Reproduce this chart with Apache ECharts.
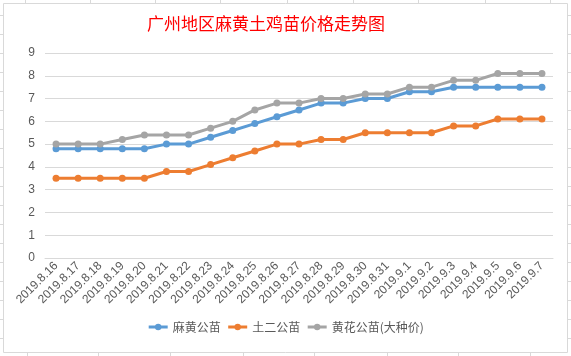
<!DOCTYPE html>
<html><head><meta charset="utf-8">
<script src="https://cdn.jsdelivr.net/npm/echarts@6/dist/echarts.min.js"></script>
<style>html,body{margin:0;padding:0;background:#fff}#c{width:571px;height:356px}</style>
</head><body><div id="c"></div>
<script>
const titleText = '广州地区麻黄土鸡苗价格走势图';
const categories = ['2019.8.16','2019.8.17','2019.8.18','2019.8.19','2019.8.20','2019.8.21','2019.8.22','2019.8.23','2019.8.24','2019.8.25','2019.8.26','2019.8.27','2019.8.28','2019.8.29','2019.8.30','2019.8.31','2019.9.1','2019.9.2','2019.9.3','2019.9.4','2019.9.5','2019.9.6','2019.9.7'];
const seriesNames = ['麻黄公苗','土二公苗','黄花公苗(大种价)'];
const mahuang = [4.8,4.8,4.8,4.8,4.8,5.0,5.0,5.3,5.6,5.9,6.2,6.5,6.8,6.8,7.0,7.0,7.3,7.3,7.5,7.5,7.5,7.5,7.5];
const tuer = [3.5,3.5,3.5,3.5,3.5,3.8,3.8,4.1,4.4,4.7,5.0,5.0,5.2,5.2,5.5,5.5,5.5,5.5,5.8,5.8,6.1,6.1,6.1];
const huanghua = [5.0,5.0,5.0,5.2,5.4,5.4,5.4,5.7,6.0,6.5,6.8,6.8,7.0,7.0,7.2,7.2,7.5,7.5,7.8,7.8,8.1,8.1,8.1];
const colors = ['#5b9bd5','#ed7d31','#a5a5a5'];

const chart = echarts.init(document.getElementById('c'), null, {renderer:'canvas'});
// decorative spreadsheet cell lines around the chart box
const deco = [];
const gl = {stroke:'#d9d9d9', lineWidth:1};
[15,34,53,72,91,110,129,148,167,186,205,224,243,262,281,300,319,338].forEach(y=>{
  deco.push({type:'line', shape:{x1:0,y1:y+0.5,x2:3,y2:y+0.5}, style:gl, silent:true});
  deco.push({type:'line', shape:{x1:568,y1:y+0.5,x2:571,y2:y+0.5}, style:gl, silent:true});
});
[25,90,155,220,287,353,418,485,550].forEach(x=>{
  deco.push({type:'line', shape:{x1:x+0.5,y1:0,x2:x+0.5,y2:3}, style:gl, silent:true});
});
[27,98,170,243,314,387,458,530].forEach(x=>{
  deco.push({type:'line', shape:{x1:x+0.5,y1:353,x2:x+0.5,y2:356}, style:gl, silent:true});
});
deco.push({type:'rect', shape:{x:3.5,y:3.5,width:564,height:349}, style:{fill:'none', stroke:'#d9d9d9', lineWidth:1}, silent:true, z:-1});

const mk = (name, data, color) => ({
  name, type:'line', data,
  symbol:'circle', symbolSize:7,
  lineStyle:{width:3, color},
  itemStyle:{color},
  animation:false
});

chart.setOption({
  animation:false,
  title:{text:titleText, left:261, top:10, textAlign:'center',
    textStyle:{color:'#ff0000', fontSize:17, fontWeight:'normal', fontFamily:'Noto Sans CJK SC'}},
  graphic: deco,
  legend:{bottom:18, left:'center', itemWidth:19, itemHeight:8, itemGap:6,
    lineStyle:{width:3},
    textStyle:{color:'#595959', fontSize:12, fontFamily:'Noto Sans CJK SC'},
    data: seriesNames},
  grid:{left:45, right:18, top:53, bottom:98, containLabel:false},
  xAxis:{type:'category', data:categories, boundaryGap:true,
    axisLine:{show:true, lineStyle:{color:'#d9d9d9'}}, axisTick:{show:false},
    axisLabel:{rotate:45, color:'#595959', fontSize:12, fontFamily:'Liberation Sans', interval:0, margin:6}},
  yAxis:{type:'value', min:0, max:9, interval:1,
    axisLine:{show:false}, axisTick:{show:false},
    splitLine:{lineStyle:{color:'#d9d9d9', width:1}},
    axisLabel:{color:'#595959', fontSize:12, fontFamily:'Liberation Sans', margin:10}},
  series:[mk(seriesNames[0], mahuang, colors[0]), mk(seriesNames[1], tuer, colors[1]), mk(seriesNames[2], huanghua, colors[2])]
});
</script></body></html>
